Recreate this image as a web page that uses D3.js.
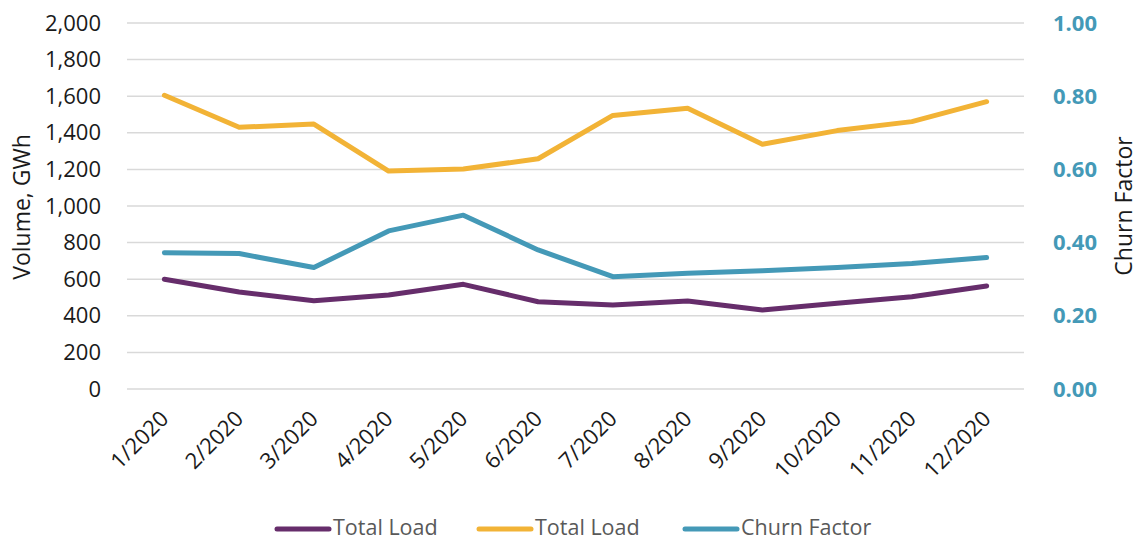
<!DOCTYPE html>
<html>
<head>
<meta charset="utf-8">
<script src="https://cdn.jsdelivr.net/npm/d3@7"></script>
<style>
  body { margin: 0; background: #fff; }
  svg { font-family: "Open Sans", sans-serif; }
</style>
</head>
<body>
<div class="chart"></div>
<script>
const width = 1138;
const height = 542;

// data
const months = ["1/2020", "2/2020", "3/2020", "4/2020", "5/2020", "6/2020",
  "7/2020", "8/2020", "9/2020", "10/2020", "11/2020", "12/2020"];
const loadPurple = [600, 530, 482, 514, 572, 477, 459, 481, 432, 468, 504, 563];
const loadOrange = [1605, 1430, 1448, 1191, 1202, 1258, 1495, 1534, 1337, 1412, 1461, 1570];
const churn = [0.372, 0.370, 0.332, 0.432, 0.475, 0.380, 0.307, 0.316, 0.323, 0.332, 0.343, 0.359];
const leftTicks = [0, 200, 400, 600, 800, 1000, 1200, 1400, 1600, 1800, 2000];
const rightTicks = [0, 0.2, 0.4, 0.6, 0.8, 1.0];

const margin = { top: 23, right: 114, bottom: 153, left: 127 };

const svg = d3
  .select(".chart")
  .append("svg")
  .attr("width", width)
  .attr("height", height);

const x = d3.scalePoint()
  .domain(months)
  .range([margin.left, width - margin.right])
  .padding(0.5);

const yL = d3.scaleLinear().domain([0, 2000]).range([height - margin.bottom, margin.top]);
const yR = d3.scaleLinear().domain([0, 1]).range([height - margin.bottom, margin.top]);

// gridlines
svg.append("g")
  .selectAll("line")
  .data(leftTicks)
  .join("line")
  .attr("x1", margin.left)
  .attr("x2", width - margin.right)
  .attr("y1", d => yL(d))
  .attr("y2", d => yL(d))
  .attr("stroke", "#d9d9d9")
  .attr("stroke-width", 1.5);

// left axis
const leftAxis = svg.append("g")
  .attr("transform", `translate(${margin.left - 23},0)`)
  .call(d3.axisLeft(yL).tickValues(leftTicks).tickSize(0).tickFormat(d3.format(",")));
leftAxis.select(".domain").remove();
leftAxis.selectAll("text")
  .attr("font-size", 22)
  .attr("fill", "#1a1a1a")
  .attr("font-family", "Open Sans, sans-serif");

// right axis
const rightAxis = svg.append("g")
  .attr("transform", `translate(${width - margin.right + 26},0)`)
  .call(d3.axisRight(yR).tickValues(rightTicks).tickSize(0).tickFormat(d3.format(".2f")));
rightAxis.select(".domain").remove();
rightAxis.selectAll("text")
  .attr("font-size", 22)
  .attr("font-weight", "bold")
  .attr("fill", "#4499b7")
  .attr("font-family", "Open Sans, sans-serif");

// x axis labels
const xAxis = svg.append("g")
  .attr("transform", `translate(0,${height - margin.bottom})`)
  .call(d3.axisBottom(x).tickSize(0));
xAxis.select(".domain").remove();
xAxis.selectAll("text")
  .attr("font-size", 22)
  .attr("fill", "#1a1a1a")
  .attr("font-family", "Open Sans, sans-serif")
  .attr("text-anchor", "end")
  .attr("dy", null)
  .attr("y", 0)
  .attr("transform", "translate(5,31) rotate(-45)");

// axis titles
svg.append("text")
  .attr("transform", "translate(30,207) rotate(-90)")
  .attr("text-anchor", "middle")
  .attr("font-size", 23)
  .attr("fill", "#1a1a1a")
  .text("Volume, GWh");

svg.append("text")
  .attr("transform", "translate(1132,206) rotate(-90)")
  .attr("text-anchor", "middle")
  .attr("font-size", 23)
  .attr("fill", "#1a1a1a")
  .text("Churn Factor");

// lines
const lineL = d3.line().x((d, i) => x(months[i])).y(d => yL(d));
const lineR = d3.line().x((d, i) => x(months[i])).y(d => yR(d));

const series = [
  { name: "Total Load", values: loadPurple, line: lineL, color: "#662d6b" },
  { name: "Total Load", values: loadOrange, line: lineL, color: "#f2b336" },
  { name: "Churn Factor", values: churn, line: lineR, color: "#4499b7" }
];

svg.append("g")
  .selectAll("path")
  .data(series)
  .join("path")
  .attr("d", d => d.line(d.values))
  .attr("fill", "none")
  .attr("stroke", d => d.color)
  .attr("stroke-width", 5)
  .attr("stroke-linejoin", "round")
  .attr("stroke-linecap", "round");

// legend
const legendX = [277, 479, 685];
const legend = svg.append("g")
  .selectAll("g")
  .data(series)
  .join("g")
  .attr("transform", (d, i) => `translate(${legendX[i]},529)`);

legend.append("line")
  .attr("x1", 0)
  .attr("x2", 52)
  .attr("stroke", d => d.color)
  .attr("stroke-width", 5)
  .attr("stroke-linecap", "round");

legend.append("text")
  .attr("x", 56)
  .attr("y", 6)
  .attr("font-size", 21.5)
  .attr("fill", "#595959")
  .text(d => d.name);
</script>
</body>
</html>
